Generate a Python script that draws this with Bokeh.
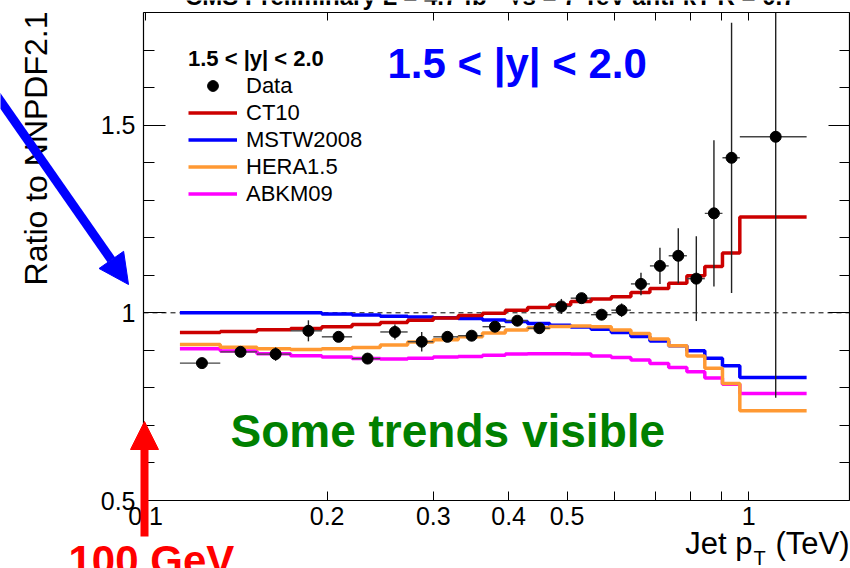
import numpy as np
from bokeh.plotting import figure
from bokeh.models import (FixedTicker, Label, Legend, LegendItem, Arrow, NormalHead,
                          LinearAxis, LogAxis, CustomJSTickFormatter)
from bokeh.embed import file_html
from bokeh.resources import INLINE

# ---------------- data ----------------
bin_edges = [0.114, 0.133, 0.153, 0.174, 0.196, 0.220, 0.245, 0.272, 0.300, 0.330, 0.362, 0.395,
             0.430, 0.468, 0.507, 0.548, 0.592, 0.638, 0.686, 0.737, 0.790, 0.846, 0.905, 0.967, 1.248]
data_pt = [0.124, 0.1437, 0.1643, 0.1862, 0.2089, 0.2334, 0.2591, 0.287, 0.3166, 0.3473, 0.3796, 0.4135,
           0.4498, 0.4892, 0.5285, 0.5704, 0.6157, 0.663, 0.7128, 0.7645, 0.819, 0.876, 0.937, 1.109]
data_ratio = [0.866, 0.896, 0.890, 0.952, 0.936, 0.878, 0.949, 0.923, 0.936, 0.939, 0.963, 0.979,
              0.959, 1.017, 1.039, 0.995, 1.007, 1.077, 1.125, 1.152, 1.091, 1.265, 1.413, 1.469]
data_err = [0.006, 0.008, 0.018, 0.028, 0.010, 0.008, 0.020, 0.026, 0.010, 0.010, 0.010, 0.010,
            0.012, 0.020, 0.010, 0.010, 0.018, 0.030, 0.048, 0.073, 0.113, 0.195, 0.360, 0.695]
ct10 = [0.9475, 0.950, 0.9547, 0.958, 0.9627, 0.969, 0.974, 0.9805, 0.986, 0.993, 0.999, 1.007,
        1.014, 1.021, 1.030, 1.0365, 1.0427, 1.054, 1.065, 1.079, 1.0987, 1.1235, 1.159, 1.255]
mstw2008 = [1.000, 1.000, 1.000, 1.000, 0.9965, 0.994, 0.991, 0.9885, 0.987, 0.985, 0.981, 0.977,
            0.9715, 0.967, 0.962, 0.956, 0.9475, 0.937, 0.925, 0.912, 0.899, 0.879, 0.859, 0.8275]
hera15 = [0.9155, 0.9085, 0.904, 0.902, 0.904, 0.9075, 0.914, 0.922, 0.928, 0.936, 0.946, 0.954,
          0.960, 0.9636, 0.965, 0.9627, 0.954, 0.945, 0.930, 0.912, 0.885, 0.8525, 0.8115, 0.739]
abkm09 = [0.904, 0.898, 0.891, 0.8853, 0.882, 0.878, 0.877, 0.879, 0.882, 0.8835, 0.887, 0.890,
          0.891, 0.891, 0.890, 0.885, 0.881, 0.874, 0.865, 0.854, 0.843, 0.826, 0.810, 0.785]
ref_level = 1.0
x_limits = (0.0992, 1.47)
y_limits = (0.5, 1.8)
x_major_ticks = [0.1, 0.2, 0.3, 0.4, 0.5, 1.0]
x_minor_ticks = [0.6, 0.7, 0.8, 0.9]
y_major_ticks = [0.5, 1.0, 1.5]
y_minor_ticks = [0.6, 0.7, 0.8, 0.9, 1.1, 1.2, 1.3, 1.4, 1.6, 1.7, 1.8]

FONT = "Liberation Sans"
W, H = 850, 568
BOX_L, BOX_R, BOX_T, BOX_B = 143, 849, 12, 500   # pixel box of the axes

# extend the ranges so that the frame fills the whole canvas (annotations outside the box stay visible)
lx0, lx1 = np.log10(x_limits[0]), np.log10(x_limits[1])
ppd = (BOX_R - BOX_L) / (lx1 - lx0)
x_full = (10 ** (lx0 - BOX_L / ppd), 10 ** (lx1 + (W - BOX_R) / ppd))
ppu = (BOX_B - BOX_T) / (y_limits[1] - y_limits[0])
y_full = (y_limits[0] - (H - BOX_B) / ppu, y_limits[1] + BOX_T / ppu)

p = figure(width=W, height=H, x_axis_type="log", x_range=x_full, y_range=y_full,
           output_backend="svg", toolbar_location=None, min_border=0)
p.grid.visible = False
p.outline_line_color = None
p.background_fill_color = "white"
p.border_fill_color = "white"

fmt = CustomJSTickFormatter(code="return tick.toString()")
no_fmt = CustomJSTickFormatter(code="return ''")

def style_axis(ax, major_in, minor_in, labels=True):
    ax.major_tick_in = major_in
    ax.major_tick_out = 0
    ax.minor_tick_in = minor_in
    ax.minor_tick_out = 0
    ax.axis_line_color = "black"
    ax.axis_line_width = 1.2
    ax.major_tick_line_color = "black"
    ax.minor_tick_line_color = "black"
    if labels:
        ax.major_label_text_font = FONT
        ax.major_label_text_font_size = "25px"
        ax.major_label_text_color = "black"
    else:
        ax.formatter = no_fmt
        ax.major_label_text_color = None
        ax.major_label_standoff = 0

xb = p.xaxis[0]
xb.ticker = FixedTicker(ticks=x_major_ticks, minor_ticks=x_minor_ticks)
xb.formatter = fmt
xb.fixed_location = y_limits[0]
xb.bounds = x_limits
style_axis(xb, 9, 9)
xb.major_label_standoff = 6

yl = p.yaxis[0]
yl.ticker = FixedTicker(ticks=y_major_ticks, minor_ticks=y_minor_ticks)
yl.formatter = fmt
yl.fixed_location = x_limits[0]
yl.bounds = y_limits
style_axis(yl, 22, 11)
yl.major_label_standoff = 8

xt = LogAxis(ticker=FixedTicker(ticks=x_major_ticks, minor_ticks=x_minor_ticks),
             fixed_location=y_limits[1], bounds=x_limits)
style_axis(xt, 8, 8, labels=False)
p.add_layout(xt, "above")
yr = LinearAxis(ticker=FixedTicker(ticks=y_major_ticks, minor_ticks=y_minor_ticks),
                fixed_location=x_limits[1], bounds=y_limits)
style_axis(yr, 21, 10, labels=False)
p.add_layout(yr, "right")

# dashed reference line at ratio 1
p.segment(x0=[x_limits[0]], y0=[ref_level], x1=[x_limits[1]], y1=[ref_level],
          line_color="black", line_width=1, line_dash="5 4")

def stepped(vals):
    return list(vals) + [vals[-1]]

r_abkm = p.step(bin_edges, stepped(abkm09), mode="after", line_color="#ff00ff", line_width=3.5)
r_mstw = p.step(bin_edges, stepped(mstw2008), mode="after", line_color="#0000ff", line_width=3.5)
r_hera = p.step(bin_edges, stepped(hera15), mode="after", line_color="#ff9933", line_width=3.5)
r_ct10 = p.step(bin_edges, stepped(ct10), mode="after", line_color="#cc0000", line_width=3.5)

ratio = np.array(data_ratio)
err = np.array(data_err)
hi = np.minimum(ratio + err, y_limits[1])
p.segment(x0=bin_edges[:-1], y0=data_ratio, x1=bin_edges[1:], y1=data_ratio, line_color="#444444", line_width=1.4)
p.segment(x0=data_pt, y0=ratio - err, x1=data_pt, y1=hi, line_color="#222222", line_width=1.4)
r_data = p.scatter(data_pt, data_ratio, size=11, color="black")

legend = Legend(items=[LegendItem(label="Data", renderers=[r_data]),
                       LegendItem(label="CT10", renderers=[r_ct10]),
                       LegendItem(label="MSTW2008", renderers=[r_mstw]),
                       LegendItem(label="HERA1.5", renderers=[r_hera]),
                       LegendItem(label="ABKM09", renderers=[r_abkm])],
                location=(188, 361), title="1.5 < |y| < 2.0",
                title_text_font=FONT, title_text_font_style="bold", title_text_font_size="22px",
                title_text_color="black",
                title_standoff=0, label_text_font=FONT, label_text_font_size="22px",
                label_text_color="black", glyph_width=49, glyph_height=27, label_height=27,
                label_standoff=9, spacing=0, padding=0, margin=0,
                border_line_color=None, background_fill_alpha=0)
p.add_layout(legend)

def text_at(x, y_from_top, text, size, style="normal", color="black", align="left"):
    # x, y in pixels of the canvas (y counted from the top)
    p.add_layout(Label(x=x, y=H - y_from_top, x_units="screen", y_units="screen", text=text,
                       text_align=align, text_baseline="alphabetic", text_font=FONT,
                       text_font_style=style, text_font_size=size, text_color=color))

p.add_layout(Label(x=35, y=H - 11, x_units="screen", y_units="screen", text="Ratio to NNPDF2.1",
                   text_align="right", text_baseline="alphabetic", text_font=FONT,
                   text_font_size="32px", text_color="black", angle=90, angle_units="deg"))
text_at(752, 543, "Jet p", "31px", align="right")
text_at(753, 557, "T", "20px")
text_at(849, 543, "(TeV)", "31px", align="right")
text_at(500, -4, "CMS Preliminary  L = 4.7 fb\u207b\u00b9  \u221as = 7 TeV  anti-kT R = 0.7",
        "24px", style="bold", align="center")
text_at(68, 560, "100 GeV", "42px", style="bold", color="#ff0000")
text_at(387, 63, "1.5 < |y| < 2.0", "42px", style="bold", color="#0000ff")
text_at(230, 430, "Some trends visible", "46px", style="bold", color="#008000")

p.add_layout(Arrow(x_start=-20, y_start=72, x_end=128, y_end=284, start_units="canvas", end_units="canvas",
                   line_color="#0000ff", line_width=9,
                   end=NormalHead(size=30, fill_color="#0000ff", line_color="#0000ff")))
p.add_layout(Arrow(x_start=144, y_start=536, x_end=144, y_end=421, start_units="canvas", end_units="canvas",
                   line_color="#ff0000", line_width=8,
                   end=NormalHead(size=28, fill_color="#ff0000", line_color="#ff0000")))

open("out.html", "w").write(file_html(p, INLINE))
